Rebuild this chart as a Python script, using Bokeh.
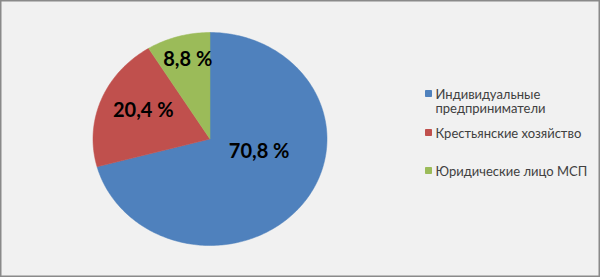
import numpy as np
from bokeh.plotting import figure
from bokeh.models import Range1d, ColumnDataSource, Label
from bokeh.core.properties import value
from bokeh.embed import file_html
from bokeh.resources import INLINE

# --- data ---
categories = ["Индивидуальные\nпредприниматели", "Крестьянские хозяйство", "Юридические лицо МСП"]
shares = [70.8, 20.4, 8.8]
colors = ["#4f81bd", "#c0504d", "#9bbb59"]

# --- layout / style ---
W, H = 600, 277
cx, cy = 209.5, 138.5          # pie centre, px from left / bottom
rx, ry = 117.0, 106.5          # pie radii, px (drawn as ellipse via the axis scales)
label_pos = [(0.42, -0.10), (-0.57, 0.28), (-0.19, 0.76)]   # label anchors in pie units
legend_x = 425                 # legend swatch left, px
legend_top = [184, 145, 107]   # first text line of each legend entry, px from bottom
line_gap = 14
font = "Lato"

p = figure(width=W, height=H, output_backend="svg", toolbar_location=None,
           x_range=Range1d(-cx / rx, (W - cx) / rx),
           y_range=Range1d(-cy / ry, (H - cy) / ry),
           min_border=0, background_fill_color="#f1f1f1", border_fill_color="#f1f1f1")
p.axis.visible = False
p.grid.visible = False
p.outline_line_color = "#8a8a8a"
p.outline_line_width = 2

# slices: clockwise from 12 o'clock
total = sum(shares)
start = np.pi / 2
xs, ys = [], []
for s in shares:
    sweep = 2 * np.pi * s / total
    t = np.linspace(start, start - sweep, max(8, int(sweep * 60)))
    xs.append(np.concatenate([[0.0], np.cos(t), [0.0]]))
    ys.append(np.concatenate([[0.0], np.sin(t), [0.0]]))
    start -= sweep
src = ColumnDataSource(dict(xs=xs, ys=ys, color=colors))
p.patches("xs", "ys", source=src, fill_color="color", line_color="color", line_width=0.5)

# value labels
lsrc = ColumnDataSource(dict(
    x=[q[0] for q in label_pos], y=[q[1] for q in label_pos],
    text=[f"{s:.1f} %".replace(".", ",") for s in shares]))
p.text("x", "y", text="text", source=lsrc, text_font=value(font), text_font_style="bold",
       text_font_size="20px", text_align="center", text_baseline="middle", text_color="#000000")

# legend swatches (screen px converted to plot units)
sw = ColumnDataSource(dict(
    x=[(legend_x + 3 - cx) / rx] * len(categories),
    y=[(t - cy) / ry for t in legend_top],
    color=colors))
p.scatter("x", "y", source=sw, marker="square", size=6, fill_color="color", line_color="color")

# legend texts
for name, top in zip(categories, legend_top):
    for i, ln in enumerate(name.split("\n")):
        p.add_layout(Label(x=legend_x + 10, y=top - line_gap * i, x_units="screen", y_units="screen",
                           text=ln, text_font=font, text_font_size="13px",
                           text_color="#404040", text_baseline="middle"))

open("out.html", "w").write(file_html(p, INLINE))
